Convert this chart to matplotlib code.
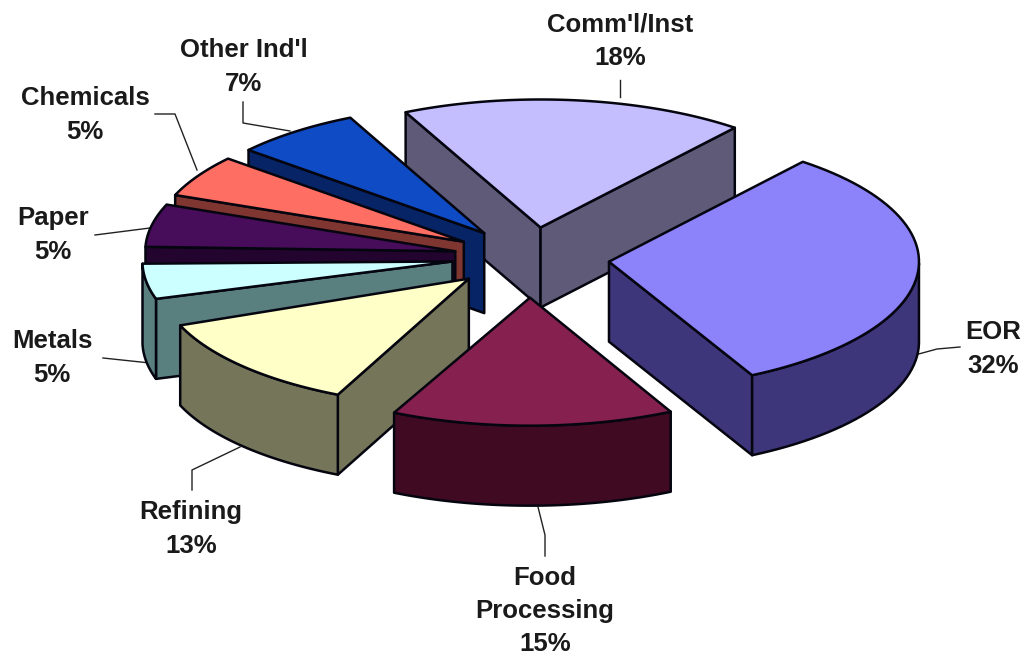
import numpy as np
import matplotlib
matplotlib.use("Agg")
import matplotlib.pyplot as plt
from matplotlib.patches import Polygon

categories = ["Comm'l/Inst", "EOR", "Food\nProcessing", "Refining", "Metals", "Paper", "Chemicals", "Other Ind'l"]
values = [18, 32, 15, 13, 5, 5, 5, 7]
explode = [0.24, 0.25, 0.31, 0.26, 0.258, 0.253, 0.254, 0.248]
# small corrections of the slice edges, in degrees, for the drawing's perspective
start_tweak = [0, 0.3, 1.2, 3.2, 2.0, 1.0, -0.4, -1.5]
end_tweak = [0.2, 1.7, 2.2, 6.4, 4.0, -0.4, -1.5, -0.2]
top_colors = ["#C4BEFF", "#8C82FA", "#85204F", "#FFFFC8", "#CCFFFF", "#470C5A", "#FF6E62", "#0F4BC4"]
side_colors = ["#5E5A78", "#3E367A", "#3F0A22", "#75755A", "#5A7F7F", "#22042E", "#7F3530", "#062466"]
label_xy = [(620, 41), (993, 349), (545, 611), (191, 529), (52, 358), (53, 235), (85, 115), (244, 67)]
leaders = [
    [(620, 80), (620, 97)],
    [(915, 355), (937, 349), (960, 347)],
    [(538, 507), (545, 535), (545, 556)],
    [(240, 447), (192, 470), (192, 490)],
    [(103, 358), (150, 363)],
    [(95, 235), (150, 228)],
    [(155, 114), (175, 114), (197, 170)],
    [(243, 102), (243, 123), (290, 131)],
]

W, H = 1024, 656
CX, CY = 532, 258
RX, RY = 310, 128
DEPTH = 80
START = 115.8
EDGE = "#050510"

fig = plt.figure(figsize=(W / 100, H / 100), dpi=100)
ax = fig.add_axes([0, 0, 1, 1])
ax.set_xlim(0, W)
ax.set_ylim(H, 0)
ax.axis("off")

spans = 360 * np.array(values, float) / sum(values)
starts = START - np.concatenate([[0], np.cumsum(spans)[:-1]])
ends = starts - spans
mids = (starts + ends) / 2


def rim(apex, a0, a1):
    t = np.radians(np.linspace(a0, a1, 60))
    return np.column_stack([apex[0] + RX * np.cos(t), apex[1] - RY * np.sin(t)])


def add(pts, color, z):
    ax.add_patch(Polygon(pts, closed=True, facecolor=color, edgecolor=EDGE,
                         linewidth=1.8, joinstyle="round", zorder=z))


drop = np.array([0, DEPTH])
order = np.argsort(-np.sin(np.radians(mids)))
for rank, i in enumerate(order):
    z = 10 + rank
    m = np.radians(mids[i])
    apex = np.array([CX + explode[i] * RX * np.cos(m), CY - explode[i] * RY * np.sin(m)])
    a0, a1 = starts[i] + start_tweak[i], ends[i] + end_tweak[i]
    arc = rim(apex, a0, a1)
    if np.cos(np.radians(a0)) < 0:
        p = arc[0]
        add([apex, p, p + drop, apex + drop], side_colors[i], z)
    if np.cos(np.radians(a1)) > 0:
        p = arc[-1]
        add([apex, p, p + drop, apex + drop], side_colors[i], z)
    t = np.radians(np.linspace(a0, a1, 60))
    vis = arc[np.sin(t) <= 0]
    if len(vis) > 1:
        add(np.vstack([vis, (vis + drop)[::-1]]), side_colors[i], z)
    add(np.vstack([[apex], arc]), top_colors[i], z)

for name, val, (x, y) in zip(categories, values, label_xy):
    ax.text(x, y, f"{name}\n{val}%", ha="center", va="center", fontsize=18.5,
            fontweight="bold", family="Liberation Sans", color="#1a1a1a",
            linespacing=1.48, zorder=40)

for seg in leaders:
    xs, ys = zip(*seg)
    ax.plot(xs, ys, color="#222222", lw=1, zorder=5)

fig.savefig("out.png", dpi=100)
